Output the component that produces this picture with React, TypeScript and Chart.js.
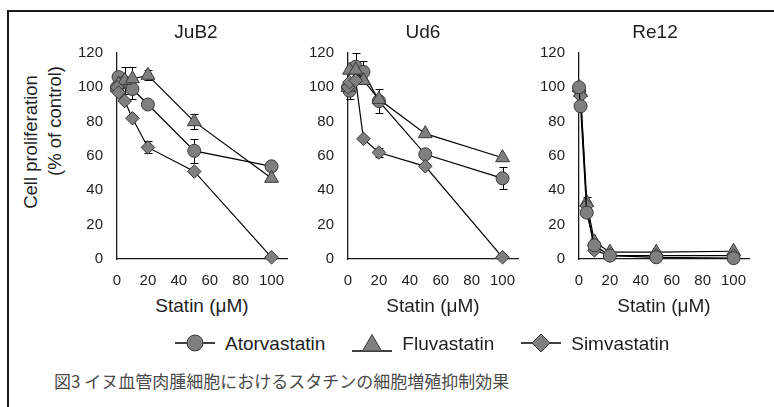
import React, { useEffect, useRef } from "react";
import { Chart, registerables } from "chart.js";

Chart.register(...registerables);

// ---------- data ----------
const concentrations = [0, 1, 5, 10, 20, 50, 100];
const xTickValues = [0, 20, 40, 60, 80, 100];
const yTickValues = [0, 20, 40, 60, 80, 100, 120];

const seriesNames = ["Atorvastatin", "Fluvastatin", "Simvastatin"];
const panelNames = ["JuB2", "Ud6", "Re12"];

// JuB2
const jub2Atorvastatin = [100, 106, 103, 99, 90, 63, 54];
const jub2AtorvastatinErr = [0, 0, 0, 6, 0, 7, 0];
const jub2Fluvastatin = [100, 102, 104, 105, 107, 80, 47];
const jub2FluvastatinErr = [0, 0, 8, 7, 3, 4.5, 0];
const jub2Simvastatin = [100, 97, 92, 82, 65, 51, 1];
const jub2SimvastatinErr = [0, 0, 0, 0, 3.5, 0, 0];

// Ud6
const ud6Atorvastatin = [100, 98, 112, 109, 92, 61, 47];
const ud6AtorvastatinErr = [0, 5, 8, 6.5, 7, 0, 6.5];
const ud6Fluvastatin = [100, 110, 110, 104, 93, 73, 59];
const ud6FluvastatinErr = [0, 0, 0, 0, 0, 0, 0];
const ud6Simvastatin = [100, 103, 104, 70, 62, 54, 1];
const ud6SimvastatinErr = [0, 0, 0, 0, 2.5, 0, 0];

// Re12
const re12Atorvastatin = [100, 89, 27, 8, 2, 1, 0.5];
const re12AtorvastatinErr = [0, 0, 0, 0, 0, 0, 0];
const re12Fluvastatin = [100, 97, 33, 10, 4, 4, 4.5];
const re12FluvastatinErr = [0, 0, 3, 0, 0, 0, 0];
const re12Simvastatin = [98, 95, 31, 5, 2, 2, 2];
const re12SimvastatinErr = [0, 0, 0, 0, 0, 0, 0];

// ---------- style ----------
const FONT = "'Liberation Sans', Arial, sans-serif";
const TEXT = "#1e1e1e";
const MARK_FILL = "#7f7f7f";
const MARK_EDGE = "#3a3a3a";
const pointStyles = ["circle", "triangle", "rectRot"];
const pointRadii = [6.5, 8, 6.8];

const PLOT_TOP = 53;
const PLOT_H = 206;
const PLOT_W = 170;
const Y_AXIS_W = 50;
const X_AXIS_H = 34;
const PAD_T = 30;
const PAD_R = 16;

const panelLefts = [117, 348, 579];
const titleCenters = [196, 423, 655];

const panelData = [
  {
    values: [jub2Atorvastatin, jub2Fluvastatin, jub2Simvastatin],
    errors: [jub2AtorvastatinErr, jub2FluvastatinErr, jub2SimvastatinErr],
    order: [2, 1, 0],
  },
  {
    values: [ud6Atorvastatin, ud6Fluvastatin, ud6Simvastatin],
    errors: [ud6AtorvastatinErr, ud6FluvastatinErr, ud6SimvastatinErr],
    order: [2, 1, 0],
  },
  {
    values: [re12Atorvastatin, re12Fluvastatin, re12Simvastatin],
    errors: [re12AtorvastatinErr, re12FluvastatinErr, re12SimvastatinErr],
    order: [0, 2, 1],
  },
];

const errorBarPlugin = {
  id: "errorBars",
  beforeDatasetsDraw(chart: any) {
    const ctx = chart.ctx;
    const xs = chart.scales.x;
    const ys = chart.scales.y;
    ctx.save();
    ctx.strokeStyle = "#000";
    ctx.lineWidth = 1;
    chart.data.datasets.forEach((ds: any) => {
      const errs: number[] = ds.errors || [];
      ds.data.forEach((pt: any, j: number) => {
        const e = errs[j];
        if (!e) return;
        const px = Math.round(xs.getPixelForValue(pt.x)) + 0.5;
        const top = Math.round(ys.getPixelForValue(pt.y + e)) + 0.5;
        const bot = Math.round(ys.getPixelForValue(pt.y - e)) + 0.5;
        ctx.beginPath();
        ctx.moveTo(px, top);
        ctx.lineTo(px, bot);
        ctx.moveTo(px - 4, top);
        ctx.lineTo(px + 4, top);
        ctx.moveTo(px - 4, bot);
        ctx.lineTo(px + 4, bot);
        ctx.stroke();
      });
    });
    ctx.restore();
  },
};

function Panel({ index }: { index: number }) {
  const ref = useRef<HTMLCanvasElement>(null);
  const w = Y_AXIS_W + PLOT_W + PAD_R;
  const h = PAD_T + PLOT_H + X_AXIS_H;

  useEffect(() => {
    const pd = panelData[index];
    const datasets = seriesNames.map((name, s) => ({
      label: name,
      data: concentrations.map((x, i) => ({ x, y: pd.values[s][i] })),
      errors: pd.errors[s],
      order: pd.order[s],
      borderColor: "#000",
      borderWidth: 1.2,
      backgroundColor: MARK_FILL,
      pointStyle: pointStyles[s],
      pointRadius: pointRadii[s],
      pointBackgroundColor: MARK_FILL,
      pointBorderColor: MARK_EDGE,
      pointBorderWidth: 1,
      tension: 0,
      clip: false as any,
      fill: false,
    }));
    const tickFont = { family: FONT, size: 15 };
    const chart = new Chart(ref.current as HTMLCanvasElement, {
      type: "line",
      data: { datasets: datasets as any },
      plugins: [errorBarPlugin],
      options: {
        animation: false,
        responsive: false,
        events: [],
        layout: { padding: { left: 0, right: PAD_R, top: PAD_T, bottom: 0 } },
        plugins: {
          legend: { display: false },
          tooltip: { enabled: false },
          title: { display: false },
        },
        scales: {
          x: {
            type: "linear",
            min: 0,
            max: 110,
            afterBuildTicks: (s: any) => {
              s.ticks = xTickValues.map((v) => ({ value: v }));
            },
            afterFit: (s: any) => {
              s.height = X_AXIS_H;
            },
            grid: { display: false, drawTicks: false },
            border: { display: true, color: "#1a1a1a", width: 1.3 },
            ticks: { font: tickFont, color: TEXT, padding: 13, maxRotation: 0, autoSkip: false },
          },
          y: {
            type: "linear",
            min: 0,
            max: 120,
            afterBuildTicks: (s: any) => {
              s.ticks = yTickValues.map((v) => ({ value: v }));
            },
            afterFit: (s: any) => {
              s.width = Y_AXIS_W;
            },
            grid: { display: false, drawTicks: false },
            border: { display: true, color: "#1a1a1a", width: 1.3 },
            ticks: { font: tickFont, color: TEXT, padding: 14, autoSkip: false },
          },
        },
      } as any,
    });
    return () => chart.destroy();
  }, [index]);

  return (
    <canvas
      ref={ref}
      width={w}
      height={h}
      style={{
        position: "absolute",
        left: panelLefts[index] - Y_AXIS_W,
        top: PLOT_TOP - PAD_T,
        width: w,
        height: h,
      }}
    />
  );
}

function Label({ x, y, text, size, rotate, family, color }: any) {
  return (
    <div
      style={{
        position: "absolute",
        left: x,
        top: y,
        transform: `translate(-50%, -50%)${rotate ? " rotate(-90deg)" : ""}`,
        whiteSpace: "nowrap",
        fontFamily: family || FONT,
        fontSize: size,
        lineHeight: 1,
        color: color || TEXT,
      }}
    >
      {text}
    </div>
  );
}

function LegendMarker({ index }: { index: number }) {
  const stroke = MARK_EDGE;
  let shape: any;
  if (index === 0) shape = <circle cx={20} cy={10} r={8} fill={MARK_FILL} stroke={stroke} strokeWidth={1} />;
  else if (index === 1)
    shape = <polygon points="20,1.5 29.5,18 10.5,18" fill={MARK_FILL} stroke={stroke} strokeWidth={1} />;
  else shape = <polygon points="20,1 29,10 20,19 11,10" fill={MARK_FILL} stroke={stroke} strokeWidth={1} />;
  const ly = index === 1 ? 18 : 10;
  return (
    <svg width={40} height={20} style={{ display: "block" }}>
      <line x1={0} y1={ly} x2={40} y2={ly} stroke="#000" strokeWidth={1.4} />
      {shape}
    </svg>
  );
}

export default function App() {
  return (
    <div
      style={{
        position: "absolute",
        left: 0,
        top: 0,
        width: 774,
        height: 407,
        background: "#fff",
        overflow: "hidden",
      }}
    >
      <div
        style={{
          position: "absolute",
          left: 7,
          top: 10,
          width: 774,
          height: 400,
          borderTop: "2px solid #1a1a1a",
          borderLeft: "2px solid #1a1a1a",
        }}
      />
      {panelNames.map((name, i) => (
        <React.Fragment key={name}>
          <Panel index={i} />
          <Label x={titleCenters[i]} y={31} text={name} size={19} />
          <Label x={panelLefts[i] + PLOT_W / 2} y={305} text="Statin (μM)" size={19} />
        </React.Fragment>
      ))}
      <Label x={31} y={142} text="Cell proliferation" size={18.5} rotate />
      <Label x={55} y={121} text="(% of control)" size={18.5} rotate />
      <div
        style={{
          position: "absolute",
          left: 175,
          top: 343,
          transform: "translateY(-50%)",
          display: "flex",
          alignItems: "center",
          gap: 27,
        }}
      >
        {seriesNames.map((n, i) => (
          <div key={n} style={{ display: "flex", alignItems: "center", gap: 10 }}>
            <LegendMarker index={i} />
            <span style={{ fontFamily: FONT, fontSize: 19, color: TEXT, lineHeight: 1 }}>{n}</span>
          </div>
        ))}
      </div>
      <div
        style={{
          position: "absolute",
          left: 54,
          top: 380,
          transform: "translateY(-50%)",
          fontFamily: "'Noto Sans CJK JP', sans-serif",
          fontSize: 17,
          lineHeight: 1,
          color: "#4a4a4a",
          whiteSpace: "nowrap",
        }}
      >
        図3 イヌ血管肉腫細胞におけるスタチンの細胞増殖抑制効果
      </div>
    </div>
  );
}
